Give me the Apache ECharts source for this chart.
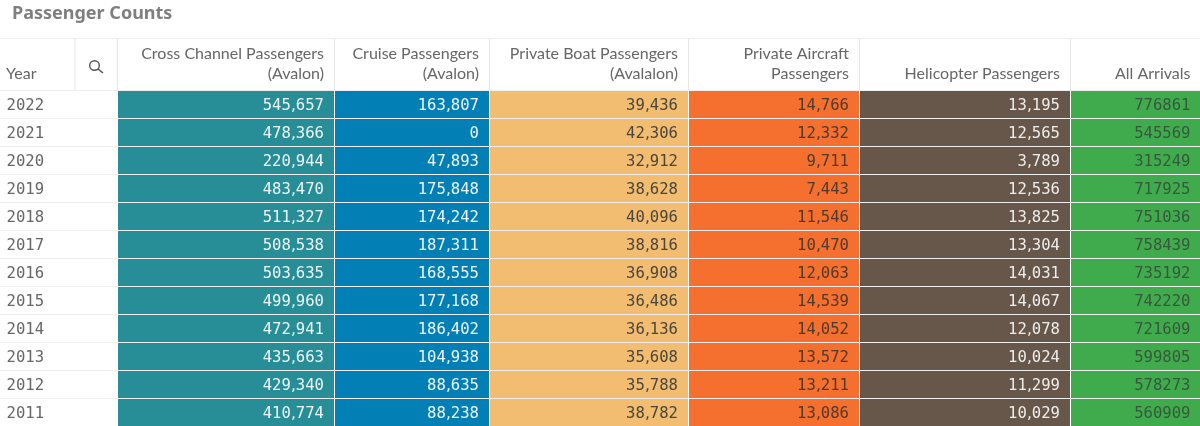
<!DOCTYPE html>
<html>
<head>
<meta charset="utf-8">
<style>html,body{margin:0;padding:0;background:#fff;overflow:hidden}#c{width:1200px;height:426px}</style>
<script src="https://cdn.jsdelivr.net/npm/echarts@6/dist/echarts.min.js"></script>
</head>
<body>
<div id="c"></div>
<script>
const years = ['2022','2021','2020','2019','2018','2017','2016','2015','2014','2013','2012','2011'];
const crossChannel = [545657,478366,220944,483470,511327,508538,503635,499960,472941,435663,429340,410774];
const cruise = [163807,0,47893,175848,174242,187311,168555,177168,186402,104938,88635,88238];
const privateBoat = [39436,42306,32912,38628,40096,38816,36908,36486,36136,35608,35788,38782];
const privateAircraft = [14766,12332,9711,7443,11546,10470,12063,14539,14052,13572,13211,13086];
const helicopter = [13195,12565,3789,12536,13825,13304,14031,14067,12078,10024,11299,10029];
const allArrivals = [776861,545569,315249,717925,751036,758439,735192,742220,721609,599805,578273,560909];
const headers = ['Cross Channel Passengers\n(Avalon)','Cruise Passengers\n(Avalon)','Private Boat Passengers\n(Avalalon)','Private Aircraft\nPassengers','Helicopter Passengers','All Arrivals'];

const columns = [crossChannel, cruise, privateBoat, privateAircraft, helicopter, allArrivals];
const edges = [118, 335, 490, 689, 860, 1071, 1200];
const pads = [11, 11, 11, 11, 11, 9.5];
const fills = ['#278d96','#027fb5','#f2bc71','#f56f2e','#67574a','#3fab4d'];
const inks = ['#eef5f5','#eef6fa','#4b463c','#4f3a2c','#ededeb','#37583d'];
const sepXs = [75, 117.5, 334.5, 489.5, 688.5, 859.5, 1070.5];
const UI = 'Lato', MONO = '"DejaVu Sans Mono"';
const MONO_SIZE = 15.6;
const fmt = (c, v) => c === 5 ? String(v) : v.toLocaleString('en-US');

const cellData = [];
columns.forEach((col, c) => col.forEach((v, r) => cellData.push([c, years[r], v])));

function renderCell(params, api) {
  const c = api.value(0), yr = api.value(1), v = api.value(2);
  const yearText = years[yr] !== undefined ? years[yr] : String(yr);
  const h = api.size([0, 1])[1];
  const cy = api.coord([0, yr])[1];
  const x0 = api.coord([edges[c], yr])[0], x1 = api.coord([edges[c + 1], yr])[0];
  const top = Math.round(cy - h / 2 + 0.5);
  const bot = Math.round(cy + h / 2 - 0.5);
  const text = fmt(c, v).split(',').map(p => '{d|' + p + '}').join('{c|,}');
  const kids = [
    {type:'rect', shape:{x:x0, y:top, width:x1-x0-(c<5?1:0), height:bot-top}, style:{fill:fills[c]}},
    {type:'text', style:{x:x1-pads[c], y:cy+1.5, text, align:'right', verticalAlign:'middle',
      rich:{d:{fill:inks[c], fontFamily:MONO, fontSize:MONO_SIZE},
            c:{fill:inks[c], fontFamily:'"DejaVu Sans"', fontSize:MONO_SIZE}}}}
  ];
  if (c === 0) kids.push({type:'text', style:{x:6.5, y:cy+1.5, text:yearText, fill:'#666666', font:MONO_SIZE+'px '+MONO, align:'left', verticalAlign:'middle'}});
  return {type:'group', children:kids};
}

const chart = echarts.init(document.getElementById('c'), null, {renderer:'canvas'});
chart.setOption({
  animation: false,
  backgroundColor: '#fff',
  title: {text:'Passenger Counts', left:7, top:0, textStyle:{fontFamily:'"Noto Sans"', fontWeight:'bold', fontSize:18, color:'#7f7f7f'}},
  grid: {left:0, top:90.5, width:1200, height:337.2, containLabel:false},
  xAxis: {type:'value', min:0, max:1200, show:false},
  yAxis: {type:'category', inverse:true, data:years,
    axisLine:{show:false}, axisTick:{show:false}, axisLabel:{show:false},
    splitLine:{show:true, lineStyle:{color:'#eeeeee', width:1}}},
  graphic: [
    {type:'line', shape:{x1:0,y1:38.5,x2:1200,y2:38.5}, style:{stroke:'#eeeeee',lineWidth:1}, silent:true},
    {type:'line', shape:{x1:0,y1:90.5,x2:1200,y2:90.5}, style:{stroke:'#cccccc',lineWidth:1}, silent:true},
    ...sepXs.map(x => ({type:'line', shape:{x1:x,y1:39,x2:x,y2:90}, style:{stroke:'#e6e6e6',lineWidth:1}, silent:true})),
    {type:'text', style:{x:6,y:84,text:'Year',fill:'#666666',font:'16px '+UI,align:'left',verticalAlign:'bottom',lineHeight:20}, silent:true},
    ...headers.map((t,i) => ({type:'text', style:{x:edges[i+1]-pads[i],y:84,text:t,fill:'#666666',font:'16px '+UI,align:'right',verticalAlign:'bottom',lineHeight:20}, silent:true})),
    {type:'circle', shape:{cx:94.5,cy:65.5,r:4.8}, style:{fill:'none',stroke:'#555555',lineWidth:1.4}, silent:true},
    {type:'line', shape:{x1:98,y1:69,x2:103,y2:73}, style:{stroke:'#555555',lineWidth:1.6}, silent:true}
  ],
  series: [{type:'custom', coordinateSystem:'cartesian2d', data:cellData, renderItem:renderCell,
    encode:{x:0,y:1}, silent:true, clip:false}]
});
</script>
</body>
</html>
